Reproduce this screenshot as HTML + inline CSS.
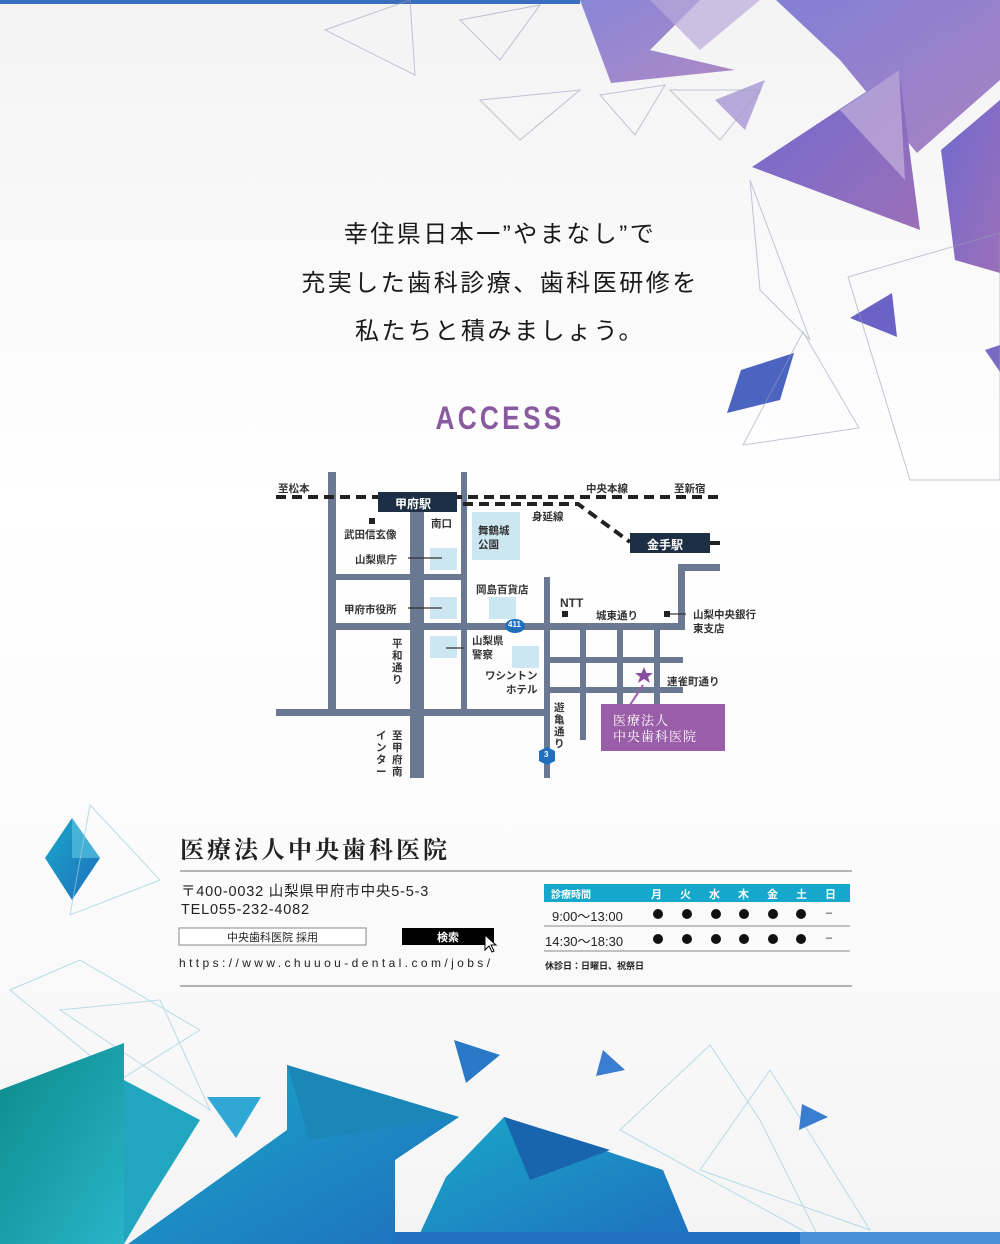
<!DOCTYPE html>
<html><head><meta charset="utf-8"><style>
html,body{margin:0;padding:0}
body{width:1000px;height:1244px;position:relative;overflow:hidden;background:linear-gradient(180deg,#f3f3f4 0%,#fff 40%,#fbfbfb 70%,#f4f4f5 100%);font-family:"Liberation Sans","Noto Sans CJK JP",sans-serif;color:#222}
.a{position:absolute;white-space:nowrap}
.h{left:0;width:1000px;text-align:center;font-size:24px;letter-spacing:2.5px;color:#1a1a1a}
.m{font-size:10.5px;font-weight:bold;color:#333}
</style></head><body>
<svg class="a" style="left:0;top:0" width="1000" height="1244">
<defs>
<linearGradient id="p" x1="0" y1="0" x2="1" y2="1"><stop offset="0" stop-color="#6f6ad0"/><stop offset="1" stop-color="#9b6fb8"/></linearGradient>
<linearGradient id="b" x1="0" y1="0" x2="1" y2="1"><stop offset="0" stop-color="#19a8c8"/><stop offset="1" stop-color="#1f6fbe"/></linearGradient>
<linearGradient id="t" x1="0" y1="0" x2="1" y2="1"><stop offset="0" stop-color="#0c8a8a"/><stop offset="1" stop-color="#28b4c8"/></linearGradient>
</defs>
<rect x="0" y="0" width="580" height="4" fill="#3a6fc0"/>
<!-- purple top-right -->
<polygon points="580,0 700,0 650,50 735,70 611,83" fill="url(#p)" opacity=".8"/>
<polygon points="650,0 760,0 700,50" fill="#b9a9da" opacity=".7"/>
<polygon points="776,0 1000,0 1000,80 917,153 840,60" fill="url(#p)" opacity=".85"/>
<polygon points="752,167 899,70 920,230" fill="url(#p)"/>
<polygon points="840,110 899,70 905,180" fill="#c3b2dc" opacity=".7"/>
<polygon points="941,150 1000,100 1000,273 955,260" fill="url(#p)"/>
<polygon points="715,100 765,80 745,130" fill="#9b8ad0" opacity=".7"/>
<polygon points="727,413 741,370 794,353 780,400" fill="#4a64c0"/>
<polygon points="850,318 892,293 897,337" fill="#6a62c4"/>
<polygon points="985,350 1000,345 1000,372" fill="#7a6ac4"/>
<g fill="none" stroke="#9aa0b8" stroke-width="1" opacity=".6">
<polygon points="325,30 410,0 415,75"/><polygon points="480,100 580,90 520,140"/><polygon points="600,95 665,85 635,135"/>
<polygon points="670,90 760,90 720,140"/><polygon points="803,332 859,428 743,445"/><polygon points="848,277 1000,233 1000,480 910,480"/>
<polygon points="460,20 540,5 500,60"/><polygon points="750,180 810,340 760,290"/>
</g>
<!-- left diamond -->
<polygon points="72,818 100,858 72,900 45,858" fill="url(#b)"/>
<polygon points="72,818 100,858 72,858" fill="#58c0e0" opacity=".7"/>
<g fill="none" stroke="#9cd0e0" stroke-width="1" opacity=".7">
<polygon points="90,805 160,880 70,915"/>
<polygon points="10,990 80,960 200,1030 120,1080"/><polygon points="60,1010 160,1000 210,1110"/>
<polygon points="620,1130 710,1045 760,1120 820,1240"/><polygon points="700,1170 770,1070 870,1230"/>
</g>
<!-- bottom masses -->
<polygon points="0,1090 124,1043 124,1244 0,1244" fill="url(#t)"/>
<polygon points="124,1080 200,1120 150,1200 124,1244" fill="#22a6c0"/>
<polygon points="287,1065 459,1117 395,1160 395,1244 128,1244 287,1130" fill="url(#b)"/>
<polygon points="287,1065 459,1117 310,1140" fill="#1b86b8"/>
<polygon points="504,1117 663,1170 689,1233 415,1244 446,1177" fill="url(#b)"/>
<polygon points="504,1117 610,1150 530,1180" fill="#1864ad"/>
<polygon points="207,1097 261,1097 236,1138" fill="#2fa8d6"/>
<polygon points="454,1040 500,1055 466,1083" fill="#2a78c8"/>
<polygon points="603,1050 625,1070 596,1076" fill="#3a7cd0"/>
<polygon points="802,1104 828,1117 799,1130" fill="#3a7cd0"/>
<rect x="395" y="1232" width="605" height="12" fill="#2470c0"/>
<rect x="800" y="1232" width="200" height="12" fill="#4a8ed6"/>
<!-- MAP -->
<g fill="#6a7891">
<rect x="328" y="472" width="8" height="244"/>
<rect x="410" y="497" width="14" height="281"/>
<rect x="461" y="472" width="6" height="244"/>
<rect x="331" y="574" width="134" height="6"/>
<rect x="331" y="623" width="354" height="7"/>
<rect x="678" y="564" width="7" height="66"/>
<rect x="678" y="564" width="42" height="7"/>
<rect x="276" y="709" width="274" height="7"/>
<rect x="544" y="577" width="6" height="201"/>
<rect x="580" y="626" width="6" height="114"/>
<rect x="617" y="626" width="6" height="80"/>
<rect x="654" y="626" width="6" height="80"/>
<rect x="547" y="657" width="136" height="6"/>
<rect x="547" y="687" width="136" height="6"/>
</g>
<g fill="#cde7f2">
<rect x="430" y="548" width="27" height="22"/><rect x="472" y="512" width="48" height="48"/>
<rect x="430" y="597" width="27" height="22"/><rect x="489" y="597" width="27" height="22"/>
<rect x="430" y="636" width="27" height="22"/><rect x="512" y="646" width="27" height="22"/>
</g>
<g stroke="#222" stroke-width="4" stroke-dasharray="10,6" fill="none">
<line x1="276" y1="497" x2="720" y2="497"/>
<polyline points="463,504 578,504 630,542"/>
<line x1="710" y1="543" x2="720" y2="543"/>
</g>
<g stroke="#333" stroke-width="1.2">
<line x1="408" y1="558" x2="442" y2="558"/><line x1="408" y1="608" x2="442" y2="608"/>
<line x1="446" y1="648" x2="464" y2="648"/><line x1="670" y1="614" x2="686" y2="614"/>
</g>
<rect x="369" y="518" width="6" height="6" fill="#222"/>
<rect x="562" y="611" width="6" height="6" fill="#222"/>
<rect x="664" y="611" width="6" height="6" fill="#222"/>
<rect x="378" y="492" width="79" height="20" fill="#1d2f44"/>
<rect x="630" y="533" width="80" height="20" fill="#1d2f44"/>
<rect x="601" y="704" width="124" height="47" fill="#9a5ea8"/>
<line x1="643" y1="685" x2="630" y2="705" stroke="#9a5ea8" stroke-width="2"/>
<polygon points="644,667 646.5,673 653,673 648,677 650,683 644,679 638,683 640,677 635,673 641.5,673" fill="#8a4ea0"/>
<ellipse cx="515" cy="626" rx="10" ry="7" fill="#1f6fbe"/>
<polygon points="547,747 555,751 555,761 547,765 539,761 539,751" fill="#1f6fbe"/>
<!-- info -->
<line x1="180" y1="871" x2="852" y2="871" stroke="#999" stroke-width="1.5"/>
<line x1="180" y1="986" x2="852" y2="986" stroke="#999" stroke-width="1.5"/>
<rect x="544" y="884" width="306" height="18" fill="#16a8cc"/>
<line x1="544" y1="926" x2="850" y2="926" stroke="#888"/>
<line x1="544" y1="951" x2="850" y2="951" stroke="#888"/>
<rect x="179" y="928" width="187" height="17" fill="#fff" stroke="#888"/>
<rect x="402" y="928" width="92" height="17" fill="#000"/>
<polygon points="485,935 485,950 489,946 492,952 494,951 491,945 496,945" fill="#fff" stroke="#000" stroke-width="1"/>
<g fill="#111">
<circle cx="658" cy="914" r="5"/><circle cx="687" cy="914" r="5"/><circle cx="716" cy="914" r="5"/><circle cx="744" cy="914" r="5"/><circle cx="773" cy="914" r="5"/><circle cx="801" cy="914" r="5"/>
<circle cx="658" cy="939" r="5"/><circle cx="687" cy="939" r="5"/><circle cx="716" cy="939" r="5"/><circle cx="744" cy="939" r="5"/><circle cx="773" cy="939" r="5"/><circle cx="801" cy="939" r="5"/>
</g>
</svg>

<div class="a h" style="top:214px">幸住県日本一”やまなし”で</div>
<div class="a h" style="top:263px">充実した歯科診療、歯科医研修を</div>
<div class="a h" style="top:311px">私たちと積みましょう。</div>
<div class="a" style="left:0;width:1000px;text-align:center;top:400px;font-size:32px;font-weight:bold;color:#8a5aa0;letter-spacing:4px;transform:scaleX(.82)">ACCESS</div>

<div class="a m" style="left:278px;top:481px">至松本</div>
<div class="a m" style="left:586px;top:481px">中央本線</div>
<div class="a m" style="left:674px;top:481px">至新宿</div>
<div class="a m" style="left:395px;top:495px;color:#fff;font-size:12px">甲府駅</div>
<div class="a m" style="left:647px;top:536px;color:#fff;font-size:12px">金手駅</div>
<div class="a m" style="left:431px;top:516px">南口</div>
<div class="a m" style="left:532px;top:509px">身延線</div>
<div class="a m" style="left:344px;top:527px">武田信玄像</div>
<div class="a m" style="left:478px;top:524px;line-height:14px">舞鶴城<br>公園</div>
<div class="a m" style="left:355px;top:552px">山梨県庁</div>
<div class="a m" style="left:476px;top:582px">岡島百貨店</div>
<div class="a m" style="left:560px;top:596px;font-size:12px">NTT</div>
<div class="a m" style="left:596px;top:608px">城東通り</div>
<div class="a m" style="left:693px;top:608px;line-height:14px">山梨中央銀行<br>東支店</div>
<div class="a m" style="left:344px;top:602px">甲府市役所</div>
<div class="a m" style="left:508px;top:620px;color:#fff;font-size:8px">411</div>
<div class="a m" style="left:472px;top:634px;line-height:14px">山梨県<br>警察</div>
<div class="a m" style="left:392px;top:638px;width:11px;white-space:normal;line-height:12px">平和通り</div>
<div class="a m" style="left:485px;top:669px;line-height:14px;text-align:right">ワシントン<br>　ホテル</div>
<div class="a m" style="left:667px;top:674px">連雀町通り</div>
<div class="a m" style="left:554px;top:702px;width:11px;white-space:normal;line-height:12px">遊亀通り</div>
<div class="a m" style="left:392px;top:730px;width:11px;white-space:normal;line-height:12px">至甲府南</div>
<div class="a m" style="left:376px;top:730px;width:11px;white-space:normal;line-height:12px">インター</div>
<div class="a m" style="left:544px;top:750px;color:#fff;font-size:8px">3</div>
<div class="a" style="left:613px;top:712px;color:#fff;font-size:13px;line-height:16px;font-family:'Noto Serif CJK SC',serif;letter-spacing:1px">医療法人<br>中央歯科医院</div>

<div class="a" style="left:180px;top:830px;font-size:24px;font-weight:bold;font-family:'Noto Serif CJK SC',serif;letter-spacing:3px">医療法人中央歯科医院</div>
<div class="a" style="left:181px;top:883px;font-size:14.5px;line-height:18px;color:#222;letter-spacing:.8px">〒400-0032 山梨県甲府市中央5-5-3<br>TEL055-232-4082</div>
<div class="a" style="left:179px;top:929px;width:187px;text-align:center;font-size:11px">中央歯科医院 採用</div>
<div class="a" style="left:402px;top:929px;width:92px;text-align:center;font-size:11px;color:#fff;font-weight:bold">検索</div>
<div class="a" style="left:179px;top:956px;font-size:12px;letter-spacing:3.4px">https://www.chuuou-dental.com/jobs/</div>
<div class="a" style="left:551px;top:886px;font-size:10px;color:#fff;font-weight:bold">診療時間</div>
<div class="a" style="left:651px;top:886px;font-size:11px;color:#fff;font-weight:bold;letter-spacing:18px">月火水木金土日</div>
<div class="a" style="left:552px;top:906px;font-size:13px">9:00〜13:00</div>
<div class="a" style="left:545px;top:931px;font-size:13px">14:30〜18:30</div>
<div class="a" style="left:826px;top:907px;font-size:11px">–</div>
<div class="a" style="left:826px;top:932px;font-size:11px">–</div>
<div class="a" style="left:545px;top:959px;font-size:9px;font-weight:bold">休診日：日曜日、祝祭日</div>
</body></html>
